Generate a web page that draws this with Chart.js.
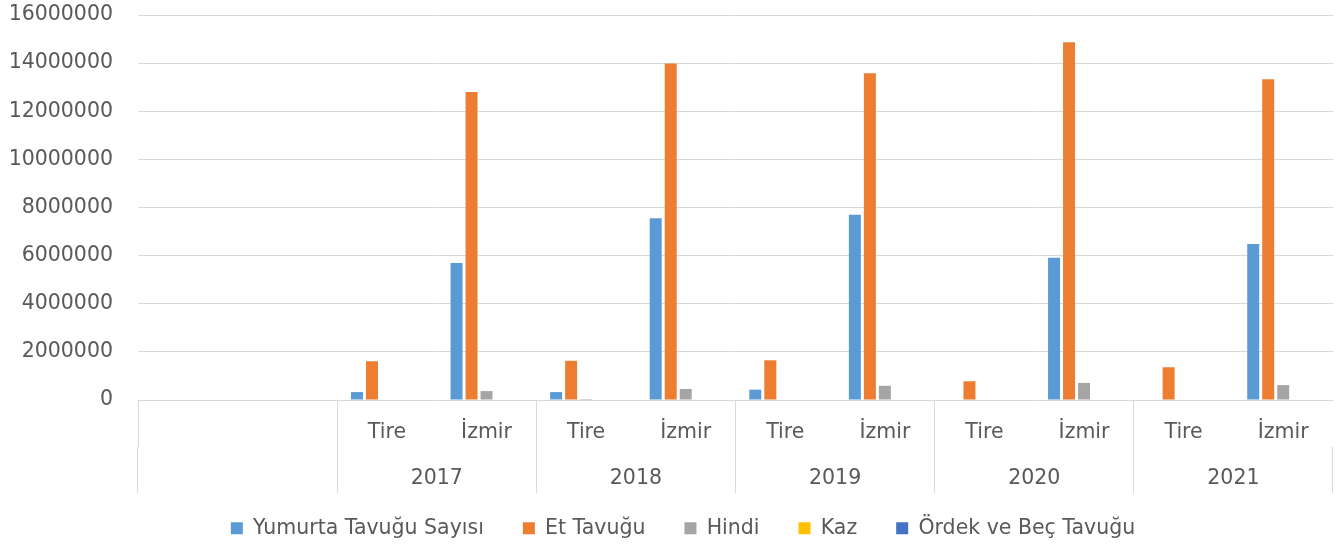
<!DOCTYPE html>
<html>
<head>
<meta charset="utf-8">
<script src="https://cdn.jsdelivr.net/npm/chart.js@4/dist/chart.umd.min.js"></script>
<style>
  html, body { margin: 0; padding: 0; background: #ffffff; }
  #wrap { width: 1339px; height: 550px; }
</style>
</head>
<body>
<div id="wrap"><canvas id="c" width="1339" height="550"></canvas></div>
<script>
// ---- data ----
const years = ['2017', '2018', '2019', '2020', '2021'];
const places = ['Tire', 'İzmir'];
const leadingBlank = ['', ''];
const seriesNames = ['Yumurta Tavuğu Sayısı', 'Et Tavuğu', 'Hindi', 'Kaz', 'Ördek ve Beç Tavuğu'];
const yumurta = [null, null, 330000, 5690000, 330000, 7550000, 430000, 7700000, 0, 5910000, 0, 6480000];
const etTavugu = [null, null, 1610000, 12800000, 1630000, 13980000, 1650000, 13580000, 780000, 14870000, 1360000, 13330000];
const hindi = [null, null, 0, 370000, 40000, 460000, 0, 590000, 0, 710000, 0, 620000];
const kaz = [null, null, 0, 0, 0, 0, 0, 0, 0, 0, 0, 0];
const ordek = [null, null, 0, 0, 0, 0, 0, 0, 0, 0, 0, 0];
const yTickMin = 0;
const yTickMax = 16000000;
const yTickStep = 2000000;

// ---- derived labels ----
const innerLabels = leadingBlank.concat(years.flatMap(() => places));
const yearLabels = [''].concat(years);

const colors = ['#5b9bd5', '#ed7d31', '#a5a5a5', '#ffc000', '#4472c4'];
const values = [yumurta, etTavugu, hindi, kaz, ordek];

const FONT = "'DejaVu Sans', Verdana, sans-serif";
const FS = 20.5;
const TXT = '#595959';
const GRID = '#d9d9d9';

const datasets = seriesNames.map((name, i) => ({
  label: name,
  data: values[i],
  backgroundColor: colors[i],
  borderWidth: 0,
  xAxisID: 'x',
  categoryPercentage: 0.753,
  barPercentage: 0.8
}));

// legend placement tweak (height of legend box and its position)
const legendPlace = {
  id: 'legendPlace',
  beforeLayout(chart) {
    const lg = chart.legend;
    if (lg && !lg._wrappedFit) {
      const orig = lg.fit;
      lg.fit = function () { orig.call(this); this.height = 57; };
      lg._wrappedFit = true;
    }
  },
  beforeDraw(chart) {
    const lg = chart.legend;
    if (lg) { lg.top = 479; lg.left = 33; }
  }
};

new Chart(document.getElementById('c'), {
  type: 'bar',
  data: { labels: innerLabels, datasets },
  plugins: [legendPlace],
  options: {
    responsive: false,
    animation: false,
    events: [],
    layout: { autoPadding: false, padding: { top: 15, right: 6, left: 0, bottom: 0 } },
    plugins: {
      tooltip: { enabled: false },
      legend: {
        position: 'bottom',
        labels: {
          boxWidth: 12,
          boxHeight: 12,
          padding: 39,
          color: TXT,
          font: { family: FONT, size: FS }
        }
      }
    },
    scales: {
      y: {
        min: yTickMin,
        max: yTickMax,
        ticks: {
          stepSize: yTickStep,
          color: TXT,
          padding: 0,
          font: { family: FONT, size: FS },
          callback: (v) => String(v)
        },
        grid: {
          color: GRID,
          lineWidth: 1,
          drawTicks: true,
          tickLength: 25,
          tickColor: 'rgba(0,0,0,0)'
        },
        border: { display: false },
        afterFit: (s) => { s.width = 138; }
      },
      x: {
        type: 'category',
        weight: 1,
        offset: true,
        ticks: {
          color: TXT,
          padding: -27,
          autoSkip: false,
          maxRotation: 0,
          font: { family: FONT, size: FS }
        },
        grid: {
          offset: true,
          drawOnChartArea: false,
          drawTicks: true,
          tickLength: 47,
          lineWidth: 1,
          color: (ctx) => (ctx.index % 2 === 0 ? GRID : 'rgba(0,0,0,0)')
        },
        border: { display: false },
        afterFit: (s) => { s.height = 47; }
      },
      x2: {
        type: 'category',
        position: 'bottom',
        weight: 2,
        labels: yearLabels,
        offset: true,
        ticks: {
          color: TXT,
          padding: -27,
          autoSkip: false,
          maxRotation: 0,
          font: { family: FONT, size: FS }
        },
        grid: {
          offset: true,
          drawOnChartArea: false,
          drawTicks: true,
          tickLength: 46,
          lineWidth: 1,
          color: GRID
        },
        border: { display: false },
        afterFit: (s) => { s.height = 46; }
      }
    }
  }
});
</script>
</body>
</html>
